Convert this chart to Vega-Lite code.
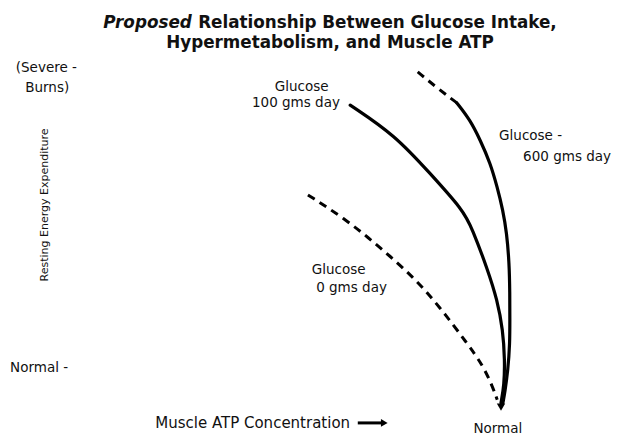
{
  "$schema": "https://vega.github.io/schema/vega-lite/v6.json",
  "width": 631,
  "height": 436,
  "autosize": {"type": "fit", "contains": "padding"},
  "padding": 0,
  "background": "white",
  "view": {"stroke": null},
  "config": {"text": {"font": "DejaVu Sans", "color": "#111"}},
  "datasets": {
    "curves": [
      {"curve": "0", "part": "body", "i": 1, "atp": 48.8, "ree": 55.3},
      {"curve": "0", "part": "body", "i": 2, "atp": 55.0, "ree": 49.5},
      {"curve": "0", "part": "body", "i": 3, "atp": 60.2, "ree": 43.3},
      {"curve": "0", "part": "body", "i": 4, "atp": 65.5, "ree": 36.5},
      {"curve": "0", "part": "body", "i": 5, "atp": 69.7, "ree": 29.6},
      {"curve": "0", "part": "body", "i": 6, "atp": 74.0, "ree": 21.3},
      {"curve": "0", "part": "body", "i": 7, "atp": 76.5, "ree": 16.3},
      {"curve": "0", "part": "body", "i": 8, "atp": 78.1, "ree": 11.2},
      {"curve": "0", "part": "body", "i": 9, "atp": 78.8, "ree": 8.3},
      {"curve": "100", "part": "body", "i": 1, "atp": 55.5, "ree": 75.9},
      {"curve": "100", "part": "body", "i": 2, "atp": 62.6, "ree": 69.0},
      {"curve": "100", "part": "body", "i": 3, "atp": 68.1, "ree": 60.3},
      {"curve": "100", "part": "body", "i": 4, "atp": 73.4, "ree": 51.8},
      {"curve": "100", "part": "body", "i": 5, "atp": 74.8, "ree": 47.7},
      {"curve": "100", "part": "body", "i": 6, "atp": 77.3, "ree": 38.1},
      {"curve": "100", "part": "body", "i": 7, "atp": 78.8, "ree": 31.2},
      {"curve": "100", "part": "body", "i": 8, "atp": 79.7, "ree": 24.3},
      {"curve": "100", "part": "body", "i": 9, "atp": 80.0, "ree": 17.4},
      {"curve": "100", "part": "body", "i": 10, "atp": 79.9, "ree": 11.7},
      {"curve": "100", "part": "body", "i": 11, "atp": 79.4, "ree": 7.6},
      {"curve": "600", "part": "lead", "i": 1, "atp": 66.2, "ree": 83.5},
      {"curve": "600", "part": "lead", "i": 2, "atp": 69.3, "ree": 79.8},
      {"curve": "600", "part": "lead", "i": 3, "atp": 72.4, "ree": 76.4},
      {"curve": "600", "part": "body", "i": 3, "atp": 72.4, "ree": 76.4},
      {"curve": "600", "part": "body", "i": 4, "atp": 74.5, "ree": 72.5},
      {"curve": "600", "part": "body", "i": 5, "atp": 76.1, "ree": 67.9},
      {"curve": "600", "part": "body", "i": 6, "atp": 77.7, "ree": 62.6},
      {"curve": "600", "part": "body", "i": 7, "atp": 78.8, "ree": 57.1},
      {"curve": "600", "part": "body", "i": 8, "atp": 79.7, "ree": 51.8},
      {"curve": "600", "part": "body", "i": 9, "atp": 80.3, "ree": 46.6},
      {"curve": "600", "part": "body", "i": 10, "atp": 80.7, "ree": 39.7},
      {"curve": "600", "part": "body", "i": 11, "atp": 80.8, "ree": 32.8},
      {"curve": "600", "part": "body", "i": 12, "atp": 80.8, "ree": 26.6},
      {"curve": "600", "part": "body", "i": 13, "atp": 80.8, "ree": 21.3},
      {"curve": "600", "part": "body", "i": 14, "atp": 80.5, "ree": 15.1},
      {"curve": "600", "part": "body", "i": 15, "atp": 80.0, "ree": 9.9},
      {"curve": "600", "part": "body", "i": 16, "atp": 79.7, "ree": 7.6}
    ],
    "labels": [
      {"text": "(Severe -", "atp": 2.5, "ree": 84.4, "align": "left"},
      {"text": "Burns)", "atp": 4.0, "ree": 79.8, "align": "left"},
      {"text": "Normal -", "atp": 1.6, "ree": 15.6, "align": "left"},
      {"text": "Glucose", "atp": 47.8, "ree": 80.0, "align": "center"},
      {"text": "100 gms day", "atp": 46.9, "ree": 76.4, "align": "center"},
      {"text": "Glucose -", "atp": 79.1, "ree": 68.8, "align": "left"},
      {"text": "600 gms day", "atp": 82.9, "ree": 64.0, "align": "left"},
      {"text": "Glucose", "atp": 49.4, "ree": 38.1, "align": "left"},
      {"text": "0 gms day", "atp": 50.1, "ree": 33.9, "align": "left"},
      {"text": "Normal", "atp": 78.9, "ree": 1.6, "align": "center"}
    ],
    "xTitle": [{"text": "Muscle ATP Concentration", "atp": 24.6, "ree": 3.0}],
    "titleParts": [
      {"text": "Proposed", "atp": 30.4, "ree": 93.5, "part": "italic"},
      {"text": "Relationship Between Glucose Intake,", "atp": 31.4, "ree": 93.5, "part": "line1"},
      {"text": "Hypermetabolism, and Muscle ATP", "atp": 52.3, "ree": 89.0, "part": "line2"}
    ],
    "yTitle": [{"text": "Resting Energy Expenditure", "atp": 7.1, "ree": 53.0}],
    "xArrow": [
      {"atp": 56.7, "ree": 3.0, "atp2": 60.4}
    ],
    "tips": [
      {"atp": 79.4, "ree": 6.6, "kind": "curves"},
      {"atp": 60.9, "ree": 3.0, "kind": "axis"}
    ]
  },
  "layer": [
    {
      "data": {"name": "curves"},
      "transform": [{"filter": "datum.curve != '0' && datum.part == 'body'"}],
      "mark": {"type": "line", "color": "#000", "strokeWidth": 3.2, "strokeCap": "round", "interpolate": "basis"},
      "encoding": {
        "x": {"field": "atp", "type": "quantitative", "scale": {"domain": [0, 100]}, "axis": null},
        "y": {"field": "ree", "type": "quantitative", "scale": {"domain": [0, 100]}, "axis": null},
        "detail": [{"field": "curve"}, {"field": "part"}],
        "order": {"field": "i", "type": "quantitative"}
      }
    },
    {
      "data": {"name": "curves"},
      "transform": [{"filter": "datum.curve == '0' || datum.part == 'lead'"}],
      "mark": {"type": "line", "color": "#000", "strokeWidth": 3, "strokeDash": [8, 6], "interpolate": "basis"},
      "encoding": {
        "x": {"field": "atp", "type": "quantitative"},
        "y": {"field": "ree", "type": "quantitative"},
        "detail": [{"field": "curve"}, {"field": "part"}],
        "order": {"field": "i", "type": "quantitative"}
      }
    },
    {
      "data": {"name": "xArrow"},
      "mark": {"type": "rule", "color": "#000", "strokeWidth": 3},
      "encoding": {
        "x": {"field": "atp", "type": "quantitative"},
        "x2": {"field": "atp2"},
        "y": {"field": "ree", "type": "quantitative"}
      }
    },
    {
      "data": {"name": "tips"},
      "transform": [{"filter": "datum.kind == 'curves'"}],
      "mark": {"type": "point", "shape": "triangle-down", "filled": true, "color": "#000", "size": 70, "opacity": 1},
      "encoding": {
        "x": {"field": "atp", "type": "quantitative"},
        "y": {"field": "ree", "type": "quantitative"}
      }
    },
    {
      "data": {"name": "tips"},
      "transform": [{"filter": "datum.kind == 'axis'"}],
      "mark": {"type": "point", "shape": "triangle-right", "filled": true, "color": "#000", "size": 60, "opacity": 1},
      "encoding": {
        "x": {"field": "atp", "type": "quantitative"},
        "y": {"field": "ree", "type": "quantitative"}
      }
    },
    {
      "data": {"name": "labels"},
      "transform": [{"filter": "datum.align == 'left'"}],
      "mark": {"type": "text", "fontSize": 13.5, "align": "left", "baseline": "middle"},
      "encoding": {
        "x": {"field": "atp", "type": "quantitative"},
        "y": {"field": "ree", "type": "quantitative"},
        "text": {"field": "text"}
      }
    },
    {
      "data": {"name": "labels"},
      "transform": [{"filter": "datum.align == 'center'"}],
      "mark": {"type": "text", "fontSize": 13.5, "align": "center", "baseline": "middle"},
      "encoding": {
        "x": {"field": "atp", "type": "quantitative"},
        "y": {"field": "ree", "type": "quantitative"},
        "text": {"field": "text"}
      }
    },
    {
      "data": {"name": "xTitle"},
      "mark": {"type": "text", "fontSize": 15, "align": "left", "baseline": "middle"},
      "encoding": {
        "x": {"field": "atp", "type": "quantitative"},
        "y": {"field": "ree", "type": "quantitative"},
        "text": {"field": "text"}
      }
    },
    {
      "data": {"name": "yTitle"},
      "mark": {"type": "text", "fontSize": 11, "angle": 270, "align": "center", "baseline": "middle"},
      "encoding": {
        "x": {"field": "atp", "type": "quantitative"},
        "y": {"field": "ree", "type": "quantitative"},
        "text": {"field": "text"}
      }
    },
    {
      "data": {"name": "titleParts"},
      "transform": [{"filter": "datum.part == 'italic'"}],
      "mark": {"type": "text", "fontSize": 16.8, "fontWeight": "bold", "fontStyle": "italic", "align": "right", "baseline": "alphabetic"},
      "encoding": {
        "x": {"field": "atp", "type": "quantitative"},
        "y": {"field": "ree", "type": "quantitative"},
        "text": {"field": "text"}
      }
    },
    {
      "data": {"name": "titleParts"},
      "transform": [{"filter": "datum.part == 'line1'"}],
      "mark": {"type": "text", "fontSize": 16.8, "fontWeight": "bold", "align": "left", "baseline": "alphabetic"},
      "encoding": {
        "x": {"field": "atp", "type": "quantitative"},
        "y": {"field": "ree", "type": "quantitative"},
        "text": {"field": "text"}
      }
    },
    {
      "data": {"name": "titleParts"},
      "transform": [{"filter": "datum.part == 'line2'"}],
      "mark": {"type": "text", "fontSize": 16.8, "fontWeight": "bold", "align": "center", "baseline": "alphabetic"},
      "encoding": {
        "x": {"field": "atp", "type": "quantitative"},
        "y": {"field": "ree", "type": "quantitative"},
        "text": {"field": "text"}
      }
    }
  ]
}
